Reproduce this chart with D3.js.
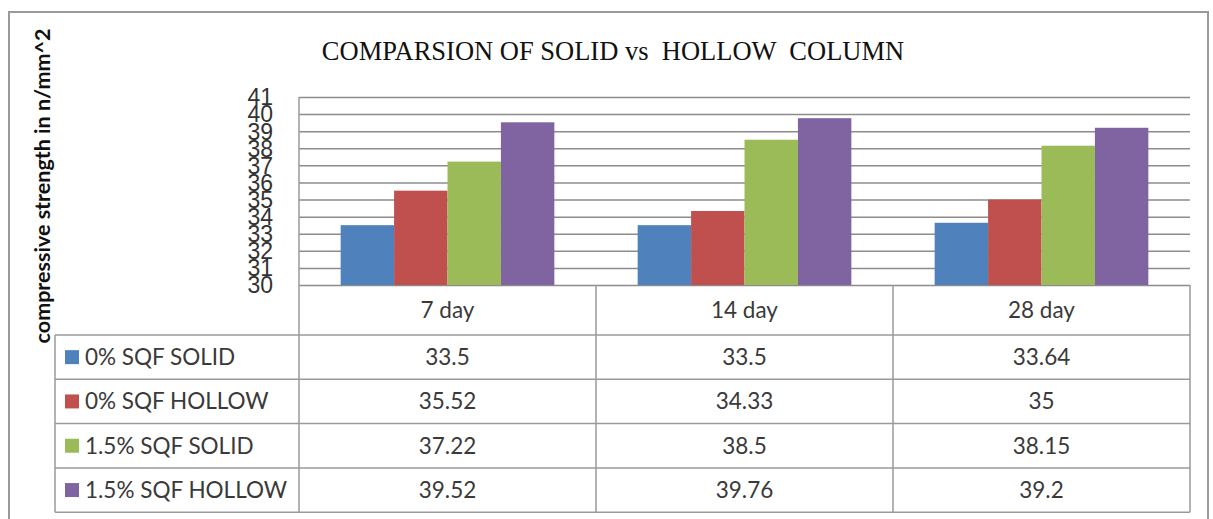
<!DOCTYPE html>
<html>
<head>
<meta charset="utf-8">
<script src="https://cdn.jsdelivr.net/npm/d3@7"></script>
<style>
  body { margin: 0; background: #fff; }
  svg text { white-space: pre; }
</style>
</head>
<body>
<div id="chart"></div>
<script>
// chart data
var categories = ["7 day", "14 day", "28 day"];
var seriesNames = ["0% SQF SOLID", "0% SQF HOLLOW", "1.5% SQF SOLID", "1.5% SQF HOLLOW"];
var solid0 = [33.5, 33.5, 33.64];
var hollow0 = [35.52, 34.33, 35];
var solid15 = [37.22, 38.5, 38.15];
var hollow15 = [39.52, 39.76, 39.2];
var valueLabels = [
    ["33.5", "33.5", "33.64"],
    ["35.52", "34.33", "35"],
    ["37.22", "38.5", "38.15"],
    ["39.52", "39.76", "39.2"]
];
var yTicks = [30, 31, 32, 33, 34, 35, 36, 37, 38, 39, 40, 41];
var colors = ["#4F81BD", "#C0504D", "#9BBB59", "#8064A2"];

function init() {
    var w = 1213, h = 519;
    var plotLeft = 299, plotRight = 1190, plotTop = 97, plotBottom = 285;
    var headerH = 50, rowH = 44.3, legendLeft = 55;
    var series = [solid0, hollow0, solid15, hollow15];

    var svg = d3.select("#chart").append("svg")
        .attr("width", w).attr("height", h);

    // outer frame
    svg.append("rect")
        .attr("x", 9).attr("y", 12)
        .attr("width", 1199).attr("height", 530)
        .attr("fill", "none").attr("stroke", "#9a9a9a").attr("stroke-width", 2);

    svg.append("text")
        .attr("x", 613).attr("y", 60)
        .attr("text-anchor", "middle")
        .style("font-family", "Liberation Serif")
        .style("font-size", "26.5px")
        .attr("fill", "#111")
        .text("COMPARSION OF SOLID vs  HOLLOW  COLUMN");

    var xScale = d3.scaleBand()
        .domain(categories)
        .range([plotLeft, plotRight]);

    var xInner = d3.scaleBand()
        .domain(d3.range(series.length))
        .range([0, xScale.bandwidth()])
        .paddingOuter(0.78);

    var yScale = d3.scaleLinear()
        .domain([30, 41])
        .range([plotBottom, plotTop]);

    // gridlines
    var yGrid = d3.axisLeft(yScale)
        .tickValues(yTicks)
        .tickSize(-(plotRight - plotLeft))
        .tickFormat("");
    var grid = svg.append("g")
        .attr("transform", "translate(" + plotLeft + ",0)")
        .call(yGrid);
    grid.select(".domain").remove();
    grid.selectAll("line").attr("stroke", "#8c8c8c").attr("stroke-width", 1.5);

    // tick labels (they crowd each other, as in the original)
    var yAxis = d3.axisLeft(yScale)
        .tickValues(yTicks)
        .tickSize(0)
        .tickPadding(0);
    var ya = svg.append("g")
        .attr("transform", "translate(273,0)")
        .call(yAxis);
    ya.select(".domain").remove();
    ya.selectAll("text")
        .attr("dy", "0.34em")
        .style("font-family", "Liberation Sans")
        .style("font-size", "23px")
        .attr("fill", "#333");

    // bars
    series.forEach(function(vals, si) {
        svg.append("g").selectAll("rect")
            .data(vals)
            .enter().append("rect")
            .attr("x", function(d, i) { return xScale(categories[i]) + xInner(si); })
            .attr("y", function(d) { return yScale(d); })
            .attr("width", xInner.bandwidth())
            .attr("height", function(d) { return yScale(30) - yScale(d); })
            .attr("fill", colors[si]);
    });

    // y axis title
    svg.append("text")
        .attr("transform", "translate(50,186) rotate(-90)")
        .attr("text-anchor", "middle")
        .style("font-family", "Lato")
        .style("font-weight", "bold")
        .style("font-size", "21.5px")
        .attr("fill", "#111")
        .text("compressive strength in n/mm^2");

    // data table
    var tableBottom = plotBottom + headerH + rowH * series.length;
    var tbl = svg.append("g")
        .attr("stroke", "#9a9a9a").attr("stroke-width", 1.5);
    tbl.append("line")
        .attr("x1", plotLeft).attr("x2", plotLeft)
        .attr("y1", plotTop).attr("y2", tableBottom);
    categories.forEach(function(c) {
        var xr = xScale(c) + xScale.bandwidth();
        tbl.append("line")
            .attr("x1", xr).attr("x2", xr)
            .attr("y1", plotBottom).attr("y2", tableBottom);
    });
    tbl.append("line")
        .attr("x1", legendLeft).attr("x2", legendLeft)
        .attr("y1", plotBottom + headerH).attr("y2", tableBottom);
    for (var r = 0; r <= series.length; r++) {
        var yy = plotBottom + headerH + r * rowH;
        tbl.append("line")
            .attr("x1", legendLeft).attr("x2", plotRight)
            .attr("y1", yy).attr("y2", yy);
    }

    var txtStyle = function(sel) {
        sel.style("font-family", "Lato")
           .style("font-size", "22.5px")
           .attr("fill", "#3a3a3a");
    };

    // category headers
    svg.append("g").selectAll("text")
        .data(categories)
        .enter().append("text")
        .attr("x", function(d) { return xScale(d) + xScale.bandwidth() / 2; })
        .attr("y", plotBottom + headerH / 2 + 8)
        .attr("text-anchor", "middle")
        .text(function(d) { return d; })
        .call(txtStyle);

    // rows
    seriesNames.forEach(function(name, si) {
        var cy = plotBottom + headerH + si * rowH + rowH / 2;
        svg.append("rect")
            .attr("x", 65).attr("y", cy - 7)
            .attr("width", 14).attr("height", 14)
            .attr("fill", colors[si]);
        svg.append("text")
            .attr("x", 85).attr("y", cy + 8)
            .text(name)
            .call(txtStyle);
        svg.append("g").selectAll("text")
            .data(valueLabels[si])
            .enter().append("text")
            .attr("x", function(d, i) { return xScale(categories[i]) + xScale.bandwidth() / 2; })
            .attr("y", cy + 8)
            .attr("text-anchor", "middle")
            .text(function(d) { return d; })
            .call(txtStyle);
    });
}
window.onload = init;
</script>
</body>
</html>
